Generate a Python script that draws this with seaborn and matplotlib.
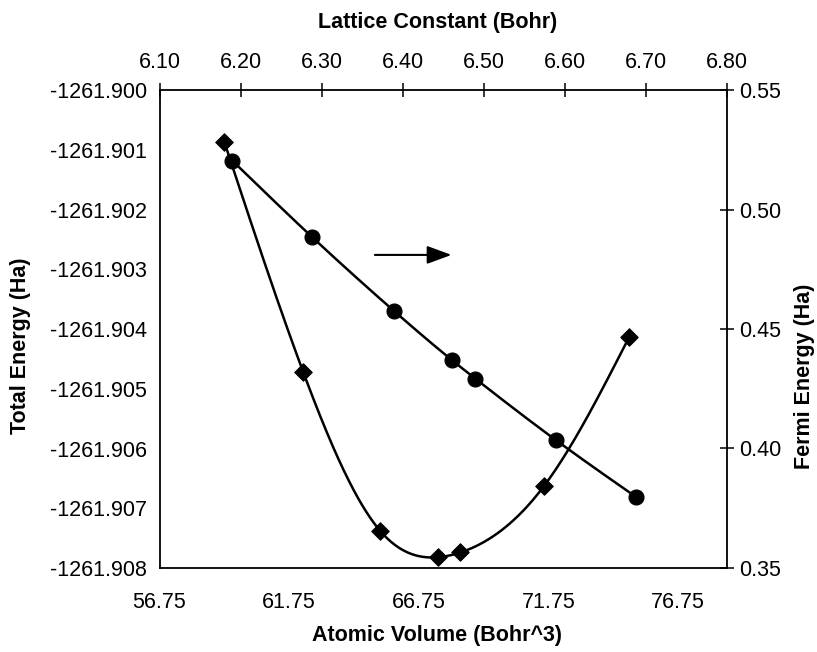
import numpy as np
import pandas as pd
import matplotlib
matplotlib.use("Agg")
import matplotlib.pyplot as plt
import seaborn as sns

# ---- data ----
atomic_volume = [59.25, 62.29, 65.26, 67.48, 68.35, 71.57, 74.85]          # Bohr^3 (bottom axis)
total_energy = [-1261.90087, -1261.90472, -1261.90738, -1261.90782,
                -1261.90774, -1261.90663, -1261.90414]                      # Ha (left axis)
lattice_constant = [6.190, 6.288, 6.389, 6.461, 6.490, 6.589, 6.688]       # Bohr (top axis)
fermi_energy = [0.5204, 0.4886, 0.4577, 0.4370, 0.4292, 0.4036, 0.3798]    # Ha (right axis)

vol_ticks = [56.75, 61.75, 66.75, 71.75, 76.75]
lat_ticks = [6.10, 6.20, 6.30, 6.40, 6.50, 6.60, 6.70, 6.80]
energy_ticks = [-1261.900, -1261.901, -1261.902, -1261.903, -1261.904,
                -1261.905, -1261.906, -1261.907, -1261.908]
fermi_ticks = [0.35, 0.40, 0.45, 0.50, 0.55]

sns.set_style("white")
plt.rcParams['font.family'] = ['Liberation Sans', 'DejaVu Sans']
plt.rcParams['axes.labelcolor'] = 'black'
plt.rcParams['text.color'] = 'black'
TITLE_FONT = ['Liberation Sans Narrow', 'Liberation Sans', 'DejaVu Sans']

W, H = 817, 652
fig = plt.figure(figsize=(W / 100, H / 100), dpi=100)
pos = [159.5 / W, (H - 568) / H, (726.5 - 159.5) / W, (568 - 90) / H]
ax = fig.add_axes(pos)
ax2 = fig.add_axes(pos, frame_on=False)

vol_lim = (56.75, 6.80 ** 3 / 4)
lat_lim = (6.10, 6.80)
en_lim = (-1261.908, -1261.900)
fe_lim = (0.35, 0.55)


def smooth(xs, ys, xlim, ylim, n=60):
    """Natural cubic spline through the points, computed in screen-normalised space."""
    x = (np.asarray(xs) - xlim[0]) / (xlim[1] - xlim[0]) * pos[2] * W
    y = (np.asarray(ys) - ylim[0]) / (ylim[1] - ylim[0]) * pos[3] * H
    m = len(x)
    h = np.diff(x)
    A = np.zeros((m, m))
    b = np.zeros(m)
    A[0, 0] = A[-1, -1] = 1.0
    for i in range(1, m - 1):
        A[i, i - 1] = h[i - 1]
        A[i, i] = 2 * (h[i - 1] + h[i])
        A[i, i + 1] = h[i]
        b[i] = 6 * ((y[i + 1] - y[i]) / h[i] - (y[i] - y[i - 1]) / h[i - 1])
    M = np.linalg.solve(A, b)
    sx, sy = [], []
    for i in range(m - 1):
        t = np.linspace(x[i], x[i + 1], n)
        if i > 0:
            t = t[1:]
        a_ = (x[i + 1] - t) / h[i]
        b_ = (t - x[i]) / h[i]
        val = (a_ * y[i] + b_ * y[i + 1]
               + ((a_ ** 3 - a_) * M[i] + (b_ ** 3 - b_) * M[i + 1]) * h[i] ** 2 / 6)
        sx.append(t)
        sy.append(val)
    sx = np.concatenate(sx) / (pos[2] * W) * (xlim[1] - xlim[0]) + xlim[0]
    sy = np.concatenate(sy) / (pos[3] * H) * (ylim[1] - ylim[0]) + ylim[0]
    return pd.DataFrame({"x": sx, "y": sy})


# Total energy vs atomic volume (bottom/left)
df_e = pd.DataFrame({"V": atomic_volume, "E": total_energy})
curve_e = smooth(atomic_volume, total_energy, vol_lim, en_lim)
sns.lineplot(data=curve_e, x="x", y="y", sort=False, estimator=None, color="black",
             lw=1.8, ax=ax)
sns.scatterplot(data=df_e, x="V", y="E", marker="D", s=80, color="black",
                edgecolor="black", ax=ax, zorder=5)

# Fermi energy vs lattice constant (top/right)
df_f = pd.DataFrame({"a": lattice_constant, "F": fermi_energy})
curve_f = smooth(lattice_constant, fermi_energy, lat_lim, fe_lim)
sns.lineplot(data=curve_f, x="x", y="y", sort=False, estimator=None, color="black",
             lw=1.8, ax=ax2)
sns.scatterplot(data=df_f, x="a", y="F", marker="o", s=115, color="black",
                edgecolor="black", ax=ax2, zorder=5)

ax.set_xlim(vol_lim)
ax.set_ylim(en_lim)
ax.set_xticks(vol_ticks)
ax.set_xticklabels([f"{v:.2f}" for v in vol_ticks])
ax.set_yticks(energy_ticks)
ax.set_yticklabels([f"{v:.3f}" for v in energy_ticks])

ax2.set_xlim(lat_lim)
ax2.set_ylim(fe_lim)
ax2.set_xticks(lat_ticks)
ax2.set_xticklabels([f"{v:.2f}" for v in lat_ticks])
ax2.set_yticks(fermi_ticks)
ax2.set_yticklabels([f"{v:.2f}" for v in fermi_ticks])
ax2.xaxis.tick_top()
ax2.yaxis.tick_right()
ax2.xaxis.set_label_position("top")
ax2.yaxis.set_label_position("right")

for s in ax.spines.values():
    s.set_visible(True)
    s.set_color("black")
    s.set_linewidth(1.3)

for a in (ax, ax2):
    a.tick_params(axis="both", which="major", direction="inout", length=10, width=1.1,
                  labelsize=15.5, colors="black", labelcolor="black", pad=4)
ax.tick_params(axis="x", pad=12)
ax2.tick_params(axis="x", pad=7)

ax.set_xlabel("Atomic Volume (Bohr^3)", fontsize=15.5, fontweight="bold",
              family=TITLE_FONT, color="black")
ax.set_ylabel("Total Energy (Ha)", fontsize=15.5, fontweight="bold",
              family=TITLE_FONT, color="black")
ax2.set_xlabel("Lattice Constant (Bohr)", fontsize=15.5, fontweight="bold",
               family=TITLE_FONT, color="black")
ax2.set_ylabel("Fermi Energy (Ha)", fontsize=15.5, fontweight="bold",
               family=TITLE_FONT, rotation=90, color="black")

# label positions (axes fraction) matched to the reference
ax.xaxis.set_label_coords(0.49, -0.142)
ax.yaxis.set_label_coords(-0.245, 0.465)
ax2.xaxis.set_label_coords(0.49, 1.142)
ax2.yaxis.set_label_coords(1.138, 0.40)
ax.yaxis.label.set_va("center")
ax2.yaxis.label.set_va("center")
ax.xaxis.label.set_va("center")
ax2.xaxis.label.set_va("center")

# arrow pointing toward the right axis (marks the Fermi-energy series)
ax.annotate("", xy=(0.52, 0.655), xycoords="axes fraction",
            xytext=(0.375, 0.655), textcoords="axes fraction",
            arrowprops=dict(arrowstyle="-|>,head_length=1.5,head_width=0.55",
                            color="black", lw=1.5))

ax.grid(False)
ax2.grid(False)
fig.savefig("out.png", dpi=100)
